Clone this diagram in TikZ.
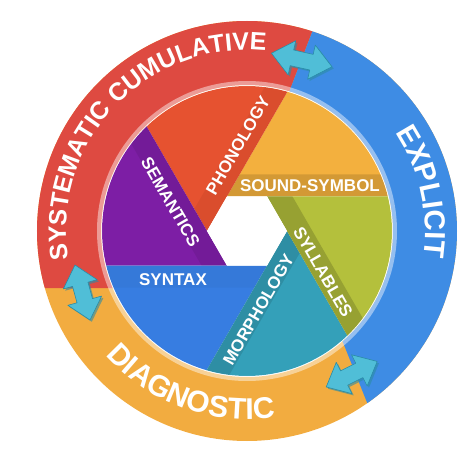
\documentclass[tikz,border=0pt]{standalone}
\usepackage{fontspec}
\setmainfont{Liberation Sans}
\usetikzlibrary{decorations.text}
\definecolor{ringred}{HTML}{DE4A41}
\definecolor{ringblue}{HTML}{3E8CE4}
\definecolor{ringyellow}{HTML}{F2AC40}
\definecolor{cSound}{HTML}{F3B03E}
\definecolor{cPhon}{HTML}{E65230}
\definecolor{cSem}{HTML}{7D1EA5}
\definecolor{cSyn}{HTML}{377DE1}
\definecolor{cMorph}{HTML}{34A0B9}
\definecolor{cSyl}{HTML}{B4C03C}
\definecolor{arrowcyan}{HTML}{50BED7}
\definecolor{arrowdark}{HTML}{2A8CA6}
\begin{document}
\begin{tikzpicture}[x=1pt,y=1pt,
  labeltext/.style={text=white, font=\bfseries\fontsize{17}{17}\selectfont, inner sep=0pt},
  arrowbody/.style={fill=arrowcyan, draw=arrowdark, line width=0.6pt, line join=round},
  arrowshade/.style={fill=arrowdark, opacity=0.6},
  ringpart/.style={even odd rule}]
\useasboundingbox (-247,-224) rectangle (227,231);

% outer ring
\fill[ringyellow, ringpart] (0,0) circle[radius=210] (0,0) circle[radius=146];
\begin{scope}
  \clip (-300,-57) -- (-33,-57) -- (110.4,317.1) -- (-300,317.1) -- cycle;
  \fill[ringred, ringpart] (0,0) circle[radius=210] (0,0) circle[radius=146];
\end{scope}
\begin{scope}
  \clip (110.4,317.1) -- (6.6,46.3) -- (77.4,-65) -- (155.4,-259.9) -- (400,-260) -- (400,317.1) -- cycle;
  \fill[ringblue, ringpart] (0,0) circle[radius=210] (0,0) circle[radius=146];
\end{scope}

% inner aperture
\begin{scope}
  \clip (0,0) circle[radius=145];
  \foreach \ang/\col/\op in {0/cSound/0.13, 60/cPhon/0.05, 120/cSem/0.08, 180/cSyn/0.03, 240/cMorph/0.11, 300/cSyl/0.16} {
    \fill[\col, rotate=\ang] (-20,34.64) -- (20,34.64) -- (320,34.64) -- (330,330) -- (140,311.8) -- cycle;
    \fill[black, opacity=\op, rotate=\ang] (-20,34.64) -- (320,34.64) -- (320,56.64) -- (-7.3,56.64) -- cycle;
  }
\end{scope}
\fill[white] (0:40) -- (60:40) -- (120:40) -- (180:40) -- (240:40) -- (300:40) -- cycle;
\draw[white, opacity=0.45, line width=5pt] (0,0) circle[radius=147.5];

% inner labels
\node[labeltext] (snd) at (63,45) {SOUND-SYMBOL};
\node[labeltext, rotate=60] (pho) at (-9,85.6) {PHONOLOGY};
\node[labeltext, rotate=-60] (sem) at (-76.5,29.1) {SEMANTICS};
\node[labeltext] (syn) at (-74,-49) {SYNTAX};
\node[labeltext, rotate=60] (mor) at (11.5,-78.7) {MORPHOLOGY};
\node[labeltext, rotate=-60] (syl) at (76,-41.1) {SYLLABLES};

% outer ring texts
\path[decorate, decoration={text along path, text align=center,
  text={|\color{white}\bfseries\fontsize{25}{25}\selectfont|SYSTEMATIC CUMULATIVE}}]
  (187:181) arc[start angle=187, end angle=86, radius=181];
\path[decorate, decoration={text along path, text align=center,
  text={|\color{white}\bfseries\fontsize{29}{29}\selectfont|EXPLICIT}}]
  (38:178) arc[start angle=38, end angle=-13, radius=178];
\path[decorate, decoration={text along path, text align=center,
  text={|\color{white}\bfseries\fontsize{30}{30}\selectfont|DIAGNOSTIC}}]
  (215:188) arc[start angle=215, end angle=285, radius=188];

% double arrows (drawn shapes)
\foreach \cx/\cy/\rot/\h/\s in {54.7/171/-12.6/31/10, -164.5/-61.5/-74.7/28.5/8.5, 104.7/-143.2/26.6/28.5/8.5} {
  \fill[arrowshade, shift={(\cx+1.8,\cy-1.8)}, rotate=\rot]
    (-\h,0) -- (-\s,17.5) -- (-\s,8) -- (\s,8) -- (\s,17.5) -- (\h,0) -- (\s,-17.5) -- (\s,-8) -- (-\s,-8) -- (-\s,-17.5) -- cycle;
  \filldraw[arrowbody, shift={(\cx,\cy)}, rotate=\rot]
    (-\h,0) -- (-\s,17.5) -- (-\s,8) -- (\s,8) -- (\s,17.5) -- (\h,0) -- (\s,-17.5) -- (\s,-8) -- (-\s,-8) -- (-\s,-17.5) -- cycle;
}
\end{tikzpicture}
\end{document}
